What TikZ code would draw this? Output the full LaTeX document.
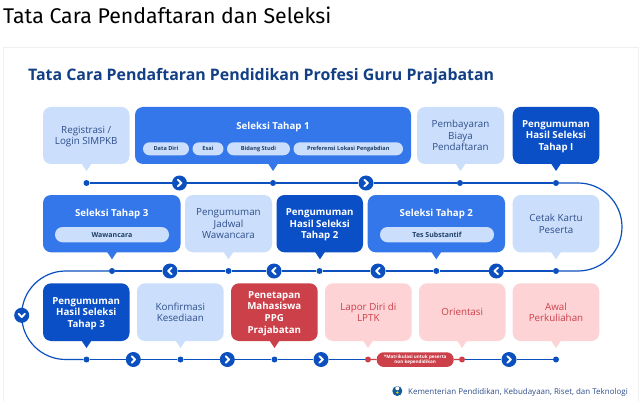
\documentclass[tikz,border=0pt]{standalone}
\usepackage{fontspec}
\setmainfont{Open Sans}
\newfontfamily\firafont{Fira Sans}
\usetikzlibrary{calc}
\definecolor{lightb}{HTML}{CBDFFC}
\definecolor{midb}{HTML}{3377EA}
\definecolor{darkb}{HTML}{0A4FC6}
\definecolor{lined}{HTML}{0B50BE}
\definecolor{textb}{HTML}{2F4F8C}
\definecolor{lightr}{HTML}{FDD3D6}
\definecolor{midr}{HTML}{CC4049}
\definecolor{titleb}{HTML}{123F85}
\definecolor{pillt}{HTML}{1F3F66}
\tikzset{
  x=1pt,y=-1pt,
  boxbase/.style={rounded corners=8pt,inner sep=0pt,align=center,text depth=0pt},
  lb/.style={boxbase,fill=lightb,text=textb,font=\fontsize{9.8}{11.6}\selectfont},
  mb/.style={boxbase,fill=midb,text=white,font=\fontsize{9.7}{11.6}\selectfont\bfseries},
  db/.style={boxbase,fill=darkb,text=white,font=\fontsize{9.7}{11.6}\selectfont\bfseries},
  rb/.style={boxbase,fill=midr,text=white,font=\fontsize{9.7}{11.6}\selectfont\bfseries},
  lr/.style={boxbase,fill=lightr,text=midr,font=\fontsize{9.8}{11.6}\selectfont},
  dotn/.style={circle,fill=lined,inner sep=0pt,minimum size=6pt},
  dotr/.style={circle,fill=midr,inner sep=0pt,minimum size=6pt},
  chev/.style={circle,fill=lined,inner sep=0pt,minimum size=15pt},
  flow/.style={draw=lined,line width=1.2pt},
  flowr/.style={draw=midr,line width=1.2pt},
  chevmark/.style={draw=white,line width=1.9pt,line cap=round,line join=round},
  pilln/.style={rounded corners=6.5pt,fill=lightb,text=pillt,inner sep=0pt,font=\fontsize{5.6}{6}\selectfont\bfseries},
  pillw/.style={rounded corners=7.5pt,fill=lightb,text=pillt,inner sep=0pt,font=\fontsize{7}{8}\selectfont\bfseries},
}
% name, x1, x2, y1, y2, tail x, style, text
\newcommand{\bx}[8]{%
  \fill[#7,rounded corners=0pt] (#6-5,#5-0.5) -- (#6+5,#5-0.5) -- (#6,#5+7) -- cycle;
  \node[#7,minimum width=#3pt-#2pt,minimum height=#5pt-#4pt] (#1) at ({(#2+#3)/2},{(#4+#5)/2}) {#8};}
% name, x1, x2, y1, y2, style, text
\newcommand{\pl}[7]{%
  \node[#6,minimum width=#3pt-#2pt,minimum height=#5pt-#4pt] (#1) at ({(#2+#3)/2},{(#4+#5)/2}) {#7};}
\newcommand{\chr}[1]{\draw[chevmark] ($(#1)+(-1.6,-3.2)$) -- ($(#1)+(1.8,0)$) -- ($(#1)+(-1.6,3.2)$);}
\newcommand{\chl}[1]{\draw[chevmark] ($(#1)+(1.6,-3.2)$) -- ($(#1)+(-1.8,0)$) -- ($(#1)+(1.6,3.2)$);}
\newcommand{\chd}[1]{\draw[chevmark] ($(#1)+(-3.2,-1.6)$) -- ($(#1)+(0,1.8)$) -- ($(#1)+(3.2,-1.6)$);}
\begin{document}
\begin{tikzpicture}
\useasboundingbox (0,0) rectangle (640,401);
\fill[white] (0,0) rectangle (640,401);
\draw[draw=black!6,line width=0.8pt,fill=white] (3.5,47.5) rectangle (638,405);
\node[anchor=base west,inner sep=0pt,font=\firafont\fontsize{21.3}{24}\selectfont,text=black] (pagetitle) at (3,23.5) {Tata Cara Pendaftaran dan Seleksi};
\node[anchor=base west,inner sep=0pt,font=\fontsize{15.9}{18}\selectfont\bfseries,text=titleb] (cardtitle) at (28,80.5) {Tata Cara Pendaftaran Pendidikan Profesi Guru Prajabatan};

% row 1
\bx{a1}{43}{129.5}{107}{164}{86.5}{lb}{Registrasi /\\Login SIMPKB}
\bx{a2}{135}{411}{107}{164}{273}{mb}{\raisebox{20pt}{Seleksi Tahap 1}}
\bx{a3}{417}{504}{107}{164}{460.5}{lb}{Pembayaran\\Biaya\\Pendaftaran}
\bx{a4}{512.7}{599.3}{107}{164}{556}{db}{Pengumuman\\Hasil Seleksi\\Tahap I}
\pl{p1}{143}{189}{142.3}{155.3}{pilln}{Data Diri}
\pl{p2}{192.5}{223.5}{142.3}{155.3}{pilln}{Esai}
\pl{p3}{227}{290}{142.3}{155.3}{pilln}{Bidang Studi}
\pl{p4}{293.5}{403}{142.3}{155.3}{pilln}{Preferensi Lokasi Pengabdian}

% row 2
\bx{b1}{43}{180.5}{195}{252.3}{112}{mb}{\raisebox{22pt}{Seleksi Tahap 3}}
\bx{b2}{185}{272}{195}{252.3}{228.5}{lb}{Pengumuman\\Jadwal\\Wawancara}
\bx{b3}{276.5}{363}{195}{252.3}{320}{db}{Pengumuman\\Hasil Seleksi\\Tahap 2}
\bx{b4}{367.7}{505}{195}{252.3}{436.3}{mb}{\raisebox{22pt}{Seleksi Tahap 2}}
\bx{b5}{512.7}{599.3}{195}{252.3}{556}{lb}{Cetak Kartu\\Peserta}
\pl{q1}{55}{169}{227}{242.3}{pillw}{Wawancara}
\pl{q2}{380}{494}{227}{242.3}{pillw}{Tes Substantif}

% row 3
\bx{c1}{43}{129.5}{283.3}{341}{86.5}{db}{Pengumuman\\Hasil Seleksi\\Tahap 3}
\bx{c2}{137}{223.7}{283.3}{341}{180.5}{lb}{Konfirmasi\\Kesediaan}
\bx{c3}{231}{317.7}{283.3}{341}{274.5}{rb}{Penetapan\\Mahasiswa\\PPG\\Prajabatan}
\bx{c4}{325}{411.7}{283.3}{341}{368}{lr}{Lapor Diri di\\LPTK}
\bx{c5}{419}{505.5}{283.3}{341}{462}{lr}{Orientasi}
\bx{c6}{512.7}{599.3}{283.3}{341}{556}{lr}{Awal\\Perkuliahan}

% line 1 nodes
\node[dotn] (d11) at (86.5,183) {};
\node[chev] (k11) at (179.5,183) {};
\node[dotn] (d12) at (273,183) {};
\node[chev] (k12) at (366,183) {};
\node[dotn] (d13) at (460,183) {};
\node[dotn] (d14) at (556,183) {};
% line 2 nodes
\node[dotn] (d25) at (556,271) {};
\node[chev] (k24) at (496.3,271) {};
\node[dotn] (d24) at (436.3,271) {};
\node[chev] (k23) at (378,271) {};
\node[dotn] (d23) at (319.5,271) {};
\node[chev] (k22) at (274,271) {};
\node[dotn] (d22) at (228.5,271) {};
\node[chev] (k21) at (170,271) {};
\node[dotn] (d21) at (112,271) {};
% left chevron
\node[chev] (kl) at (21.7,315.3) {};
% line 3 nodes
\node[dotn] (d31) at (86.5,359.5) {};
\node[chev] (k31) at (133.3,359.5) {};
\node[dotn] (d32) at (180.5,359.5) {};
\node[chev] (k32) at (227.3,359.5) {};
\node[dotn] (d33) at (274.5,359.5) {};
\node[chev] (k33) at (321,359.5) {};
\node[dotr] (d34) at (368,359.5) {};
\node[rounded corners=7pt,fill=midr,text=white,inner sep=0pt,align=center,minimum width=77pt,minimum height=14.7pt,font=\fontsize{4.6}{5.4}\selectfont\bfseries] (note) at (415.2,359.6) {*Matrikulasi untuk peserta\\non kependidikan};
\node[dotr] (d35) at (462,359.5) {};
\node[chev] (k34) at (509,359.5) {};
\node[dotn] (d36) at (556,359.5) {};

% connectors
\draw[flow] (d11)--(k11); \draw[flow] (k11)--(d12); \draw[flow] (d12)--(k12); \draw[flow] (k12)--(d13); \draw[flow] (d13)--(d14);
\draw[flow] (d14.east) -- (578,183) arc[start angle=-90,end angle=90,radius=44] -- (d25.east);
\draw[flow] (d25)--(k24); \draw[flow] (k24)--(d24); \draw[flow] (d24)--(k23); \draw[flow] (k23)--(d23); \draw[flow] (d23)--(k22); \draw[flow] (k22)--(d22); \draw[flow] (d22)--(k21); \draw[flow] (k21)--(d21);
\draw[flow] (d21.west) -- (65.7,271) arc[start angle=270,end angle=180,radius=44] -- (kl.north);
\draw[flow] (kl.south) -- (21.7,315.5) arc[start angle=180,end angle=90,radius=44] -- (d31.west);
\draw[flow] (d31)--(k31); \draw[flow] (k31)--(d32); \draw[flow] (d32)--(k32); \draw[flow] (k32)--(d33); \draw[flow] (d33)--(k33);
\draw[flow] (k33)--(d34); \draw[flowr] (d34)--(note); \draw[flowr] (note)--(d35); \draw[flow] (d35)--(k34); \draw[flow] (k34)--(d36);

% chevron marks
\chr{k11}\chr{k12}
\chl{k21}\chl{k22}\chl{k23}\chl{k24}
\chd{kl}
\chr{k31}\chr{k32}\chr{k33}\chr{k34}

% footer
\fill[titleb!85!cyan] (397.3,391) circle (5pt);
\fill[white] (397.3,388.3) circle (2pt);
\fill[yellow!70!orange] (397.3,392.5) circle (1.3pt);
\node[anchor=base west,inner sep=0pt,font=\fontsize{7.97}{9}\selectfont,text=textb] (footer) at (408,394) {Kementerian Pendidikan, Kebudayaan, Riset, dan Teknologi};
\end{tikzpicture}
\end{document}
